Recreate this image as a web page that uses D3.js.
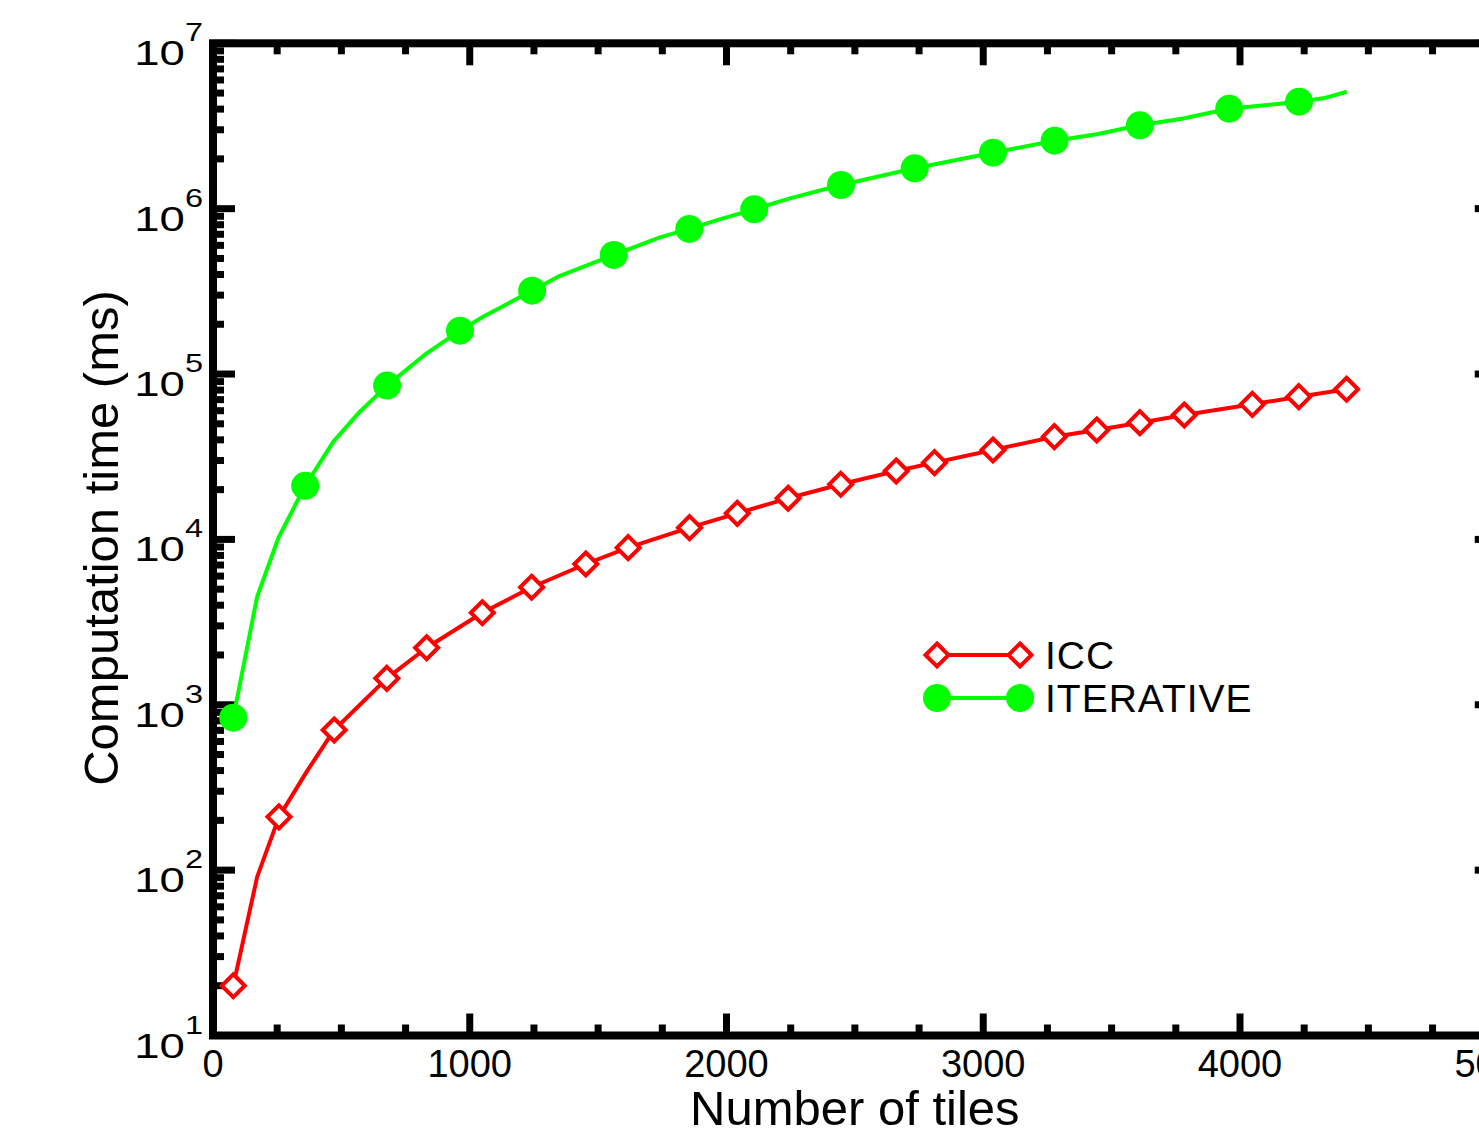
<!DOCTYPE html>
<html>
<head>
<meta charset="utf-8">
<script src="https://cdn.jsdelivr.net/npm/d3@7"></script>
<style>
  html, body { margin: 0; padding: 0; background: #fff; }
  svg { display: block; }
  text { font-family: "Liberation Sans", Arial, Helvetica, sans-serif; fill: #000; }
</style>
</head>
<body>
<svg id="chart" width="1479" height="1131"></svg>
<script>
// ICC series: number of tiles vs computation time (ms)
const iccTiles = [79, 172, 257, 365, 472, 677, 832, 1049, 1241, 1452, 1617, 1856, 2042, 2240, 2445, 2661, 2810, 3038, 3277, 3442, 3610, 3783, 4048, 4229, 4415];
const iccTimes = [20, 91, 210, 394, 704, 1445, 2213, 3603, 5134, 7100, 8913, 11770, 14380, 17730, 21540, 25930, 29110, 34740, 41790, 45890, 50800, 56500, 65600, 72950, 80900];
const iccMarkerIdx = [0, 2, 4, 5, 6, 7, 8, 9, 10, 11, 12, 13, 14, 15, 16, 17, 18, 19, 20, 21, 22, 23, 24];

// ITERATIVE series
const iterTiles = [79, 172, 255, 359, 469, 572, 678, 832, 962, 1052, 1243, 1344, 1561, 1741, 1855, 1986, 2108, 2247, 2446, 2733, 3038, 3278, 3442, 3610, 3773, 3958, 4136, 4230, 4324, 4416];
const iterTimes = [836, 4510, 10230, 21100, 39000, 59200, 85100, 133500, 182800, 222000, 319000, 388000, 525000, 671000, 754000, 874000, 991000, 1155000, 1390000, 1754000, 2180000, 2576000, 2816000, 3193000, 3499000, 4023000, 4277000, 4435000, 4648000, 5097000];
const iterMarkerIdx = [0, 3, 6, 8, 10, 12, 14, 16, 18, 19, 20, 21, 23, 25, 27];

// Axis ticks
const xMajor = [0, 1000, 2000, 3000, 4000, 5000];
const xMinor = [250, 500, 750, 1250, 1500, 1750, 2250, 2500, 2750, 3250, 3500, 3750, 4250, 4500, 4750];
const yExponents = [1, 2, 3, 4, 5, 6, 7];

const seriesNames = ["ICC", "ITERATIVE"];
const seriesColors = ["#ff0000", "#00ff00"];

const svg = d3.select("#chart");
svg.append("rect").attr("width", 1479).attr("height", 1131).attr("fill", "#fff");

const x = d3.scaleLinear().domain([0, 5000]).range([213, 1496.75]);
const y = d3.scaleLog().domain([10, 1e7]).range([1035.5, 43.3]);

const [x0, x1] = x.range();
const [yb, yt] = y.range();

const yMinor = [];
yExponents.slice(0, -1).forEach(e => { for (let k = 2; k <= 9; k++) yMinor.push(k * Math.pow(10, e)); });

const tickW = 7, majLen = 22, minLen = 11;
const ticks = svg.append("g").attr("stroke", "#000").attr("stroke-width", tickW);

// bottom and top ticks (pointing inward)
[[xMajor, majLen], [xMinor, minLen]].forEach(([vals, len]) => {
  ticks.selectAll(null).data(vals).join("line")
    .attr("x1", d => x(d)).attr("x2", d => x(d))
    .attr("y1", yb).attr("y2", yb - len);
  ticks.selectAll(null).data(vals).join("line")
    .attr("x1", d => x(d)).attr("x2", d => x(d))
    .attr("y1", yt).attr("y2", yt + len);
});
// left and right ticks
const yMajorVals = yExponents.map(e => Math.pow(10, e));
[[yMajorVals, majLen], [yMinor, minLen]].forEach(([vals, len]) => {
  ticks.selectAll(null).data(vals).join("line")
    .attr("y1", d => y(d)).attr("y2", d => y(d))
    .attr("x1", x0).attr("x2", x0 + len);
  ticks.selectAll(null).data(vals).join("line")
    .attr("y1", d => y(d)).attr("y2", d => y(d))
    .attr("x1", x1).attr("x2", x1 - len);
});

// frame
svg.append("rect")
  .attr("x", x0).attr("y", yt).attr("width", x1 - x0).attr("height", yb - yt)
  .attr("fill", "none").attr("stroke", "#000").attr("stroke-width", 8);

// x tick labels
svg.append("g").selectAll("text").data(xMajor).join("text")
  .attr("x", d => x(d)).attr("y", yb + 41)
  .attr("text-anchor", "middle").attr("font-size", 38)
  .text(d => d);

// y tick labels: 10^e, drawn slightly widened
const yl = svg.append("g").selectAll("text").data(yExponents).join("text")
  .attr("transform", d => `translate(203,${y(Math.pow(10, d)) + 22}) scale(1.3,1)`)
  .attr("text-anchor", "end").attr("font-size", 35);
yl.append("tspan").text("10");
yl.append("tspan").attr("dy", -24).attr("font-size", 25).text(d => d);

// axis titles
svg.append("text")
  .attr("x", (x0 + x1) / 2).attr("y", 1125)
  .attr("text-anchor", "middle").attr("font-size", 49)
  .text("Number of tiles");
svg.append("text")
  .attr("transform", "translate(118,538) rotate(-90)")
  .attr("text-anchor", "middle").attr("font-size", 49)
  .text("Computation time (ms)");

const diamond = r => `M0,${-r}L${r},0L0,${r}L${-r},0Z`;

const plot = svg.append("g");
function drawSeries(tiles, times, markerIdx, color, kind) {
  const pts = tiles.map((t, i) => [x(t), y(times[i])]);
  plot.append("path").attr("d", d3.line()(pts))
    .attr("fill", "none").attr("stroke", color).attr("stroke-width", 4)
    .attr("stroke-linejoin", "round");
  const m = plot.append("g").selectAll(null).data(markerIdx).join(kind === "diamond" ? "path" : "circle");
  if (kind === "diamond") {
    m.attr("d", diamond(11.5)).attr("transform", i => `translate(${pts[i][0]},${pts[i][1]})`)
      .attr("fill", "#fff").attr("stroke", color).attr("stroke-width", 4);
  } else {
    m.attr("cx", i => pts[i][0]).attr("cy", i => pts[i][1]).attr("r", 14).attr("fill", color);
  }
}
drawSeries(iccTiles, iccTimes, iccMarkerIdx, seriesColors[0], "diamond");
drawSeries(iterTiles, iterTimes, iterMarkerIdx, seriesColors[1], "circle");

// legend
const legend = svg.append("g");
const legRows = [655, 698];
seriesNames.forEach((name, i) => {
  const cy = legRows[i];
  legend.append("line").attr("x1", 937).attr("x2", 1020).attr("y1", cy).attr("y2", cy)
    .attr("stroke", seriesColors[i]).attr("stroke-width", 4);
  [937, 1020].forEach(cx => {
    if (i === 0) {
      legend.append("path").attr("d", diamond(11.5)).attr("transform", `translate(${cx},${cy})`)
        .attr("fill", "#fff").attr("stroke", seriesColors[i]).attr("stroke-width", 4);
    } else {
      legend.append("circle").attr("cx", cx).attr("cy", cy).attr("r", 14).attr("fill", seriesColors[i]);
    }
  });
  legend.append("text").attr("x", 1045).attr("y", cy + 14).attr("font-size", 39)
    .attr("letter-spacing", 1).text(name);
});
</script>
</body>
</html>
